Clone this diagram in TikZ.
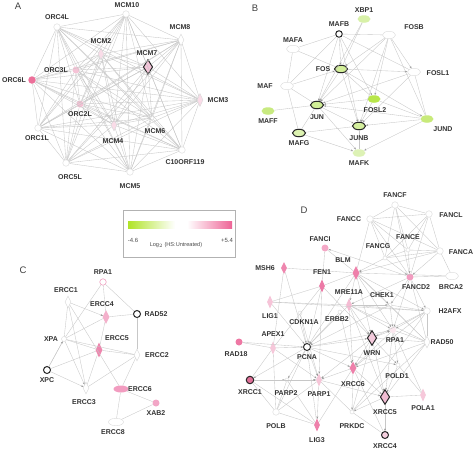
\documentclass[tikz,border=0pt]{standalone}
\usepackage{fontspec}
\setmainfont{Liberation Sans}
\usetikzlibrary{shapes.geometric,arrows.meta}
\tikzset{
 ed/.style={draw=black!22, line width=0.35pt},
 ea/.style={ed, -{Stealth[length=2.4pt,width=1.8pt,color=black!40]}},
 lbl/.style={font=\fontsize{7}{8}\selectfont\bfseries, text=black!80, inner sep=0pt},
 plet/.style={font=\fontsize{9.5}{10}\selectfont, text=black!75, inner sep=0pt},
 nc/.style={circle, inner sep=0pt, minimum size=6.5pt, draw=black!15, fill=white, line width=0.4pt},
 nd/.style={diamond, inner sep=0pt, minimum width=6pt, minimum height=12pt, draw=black!15, fill=white, line width=0.4pt},
 ne/.style={ellipse, inner sep=0pt, minimum width=13pt, minimum height=7.5pt, draw=black!15, fill=white, line width=0.4pt},
 bk/.style={draw=black!85, line width=1pt},
 bigd/.style={minimum width=9.5pt, minimum height=15pt},
}
\begin{document}
\begin{tikzpicture}[x=1pt,y=-1pt]
\useasboundingbox (0,0) rectangle (474,450);
\fill[white] (0,0) rectangle (474,450);

% ---------------- Panel A ----------------
\node[plet] (pA) at (18,6) {A};
\node[nc] (aMCM10) at (126,14) {};
\node[nc] (aORC4L) at (57,27) {};
\node[nd] (aMCM8) at (181,40) {};
\node[nd, fill={rgb,255:red,249;green,220;blue,232}] (aMCM2) at (101,54) {};
\node[nd, bk, bigd, fill={rgb,255:red,242;green,196;blue,216}] (aMCM7) at (148,67) {};
\node[nc, minimum size=7pt, fill={rgb,255:red,245;green,195;blue,214}, draw=none] (aORC3L) at (76,70) {};
\node[nc, minimum size=7.5pt, fill={rgb,255:red,236;green,111;blue,153}, draw=none] (aORC6L) at (32,80) {};
\node[nd, fill={rgb,255:red,250;green,220;blue,232}, minimum height=13pt] (aMCM3) at (200,100) {};
\node[nc, minimum size=7pt, fill={rgb,255:red,245;green,192;blue,212}, draw=none] (aORC2L) at (80,104) {};
\node[nc] (aORC1L) at (38,128) {};
\node[nd, fill={rgb,255:red,250;green,220;blue,232}] (aMCM4) at (114,125) {};
\node[nc, minimum size=4pt] (aMCM6) at (152,118) {};
\node[nc] (aC10) at (182,150) {};
\node[nc] (aORC5L) at (66,163) {};
\node[nc] (aMCM5) at (130,172) {};
\foreach \u [count=\i] in {aMCM10,aORC4L,aMCM8,aMCM2,aMCM7,aORC3L,aORC6L,aMCM3,aORC2L,aORC1L,aMCM4,aMCM6,aC10,aORC5L,aMCM5}{
  \foreach \v [count=\j] in {aMCM10,aORC4L,aMCM8,aMCM2,aMCM7,aORC3L,aORC6L,aMCM3,aORC2L,aORC1L,aMCM4,aMCM6,aC10,aORC5L,aMCM5}{
    \ifnum\j>\i \draw[ed] (\u) -- (\v); \fi
  }
}
\node[lbl] (laMCM10) at (127,5) {MCM10};
\node[lbl] (laORC4L) at (57,17) {ORC4L};
\node[lbl] (laMCM8) at (180,27) {MCM8};
\node[lbl] (laMCM2) at (101,41) {MCM2};
\node[lbl] (laMCM7) at (147,53) {MCM7};
\node[lbl] (laORC3L) at (56,70) {ORC3L};
\node[lbl, anchor=east] (laORC6L) at (26,80) {ORC6L};
\node[lbl] (laMCM3) at (218,100) {MCM3};
\node[lbl] (laORC2L) at (80,114) {ORC2L};
\node[lbl] (laORC1L) at (37,138) {ORC1L};
\node[lbl] (laMCM4) at (113,141) {MCM4};
\node[lbl] (laMCM6) at (155,131) {MCM6};
\node[lbl] (laC10) at (185,162) {C10ORF119};
\node[lbl] (laORC5L) at (70,177) {ORC5L};
\node[lbl] (laMCM5) at (130,186) {MCM5};

% ---------------- Panel B ----------------
\node[plet] (pB) at (255,8) {B};
\node[ne, draw=none, fill={rgb,255:red,216;green,241;blue,168}] (bXBP1) at (364,19) {};
\node[nc, bk] (bMAFB) at (339,34) {};
\node[ne] (bFOSB) at (389,35) {};
\node[ne] (bMAFA) at (293,49) {};
\node[ne, bk, fill={rgb,255:red,210;green,238;blue,152}] (bFOS) at (341,69) {};
\node[ne] (bFOSL1) at (414,72) {};
\node[ne] (bMAF) at (287,86) {};
\node[ne, draw=none, fill={rgb,255:red,184;green,230;blue,74}] (bFOSL2) at (374,99) {};
\node[ne, bk, fill={rgb,255:red,208;green,238;blue,150}] (bJUN) at (317,105) {};
\node[ne, draw=none, fill={rgb,255:red,200;green,234;blue,128}] (bMAFF) at (268,111) {};
\node[ne, draw=none, fill={rgb,255:red,200;green,234;blue,122}] (bJUND) at (427,119) {};
\node[ne, bk, fill={rgb,255:red,212;green,239;blue,158}] (bJUNB) at (359,126) {};
\node[ne, bk, fill={rgb,255:red,220;green,242;blue,176}] (bMAFG) at (299,133) {};
\node[ne, draw=none, fill={rgb,255:red,221;green,242;blue,181}] (bMAFK) at (359,153) {};
\foreach \u/\v in {bMAFB/bMAFA, bMAFB/bFOSB, bMAFB/bMAF, bMAFA/bMAF, bMAF/bJUN, bMAF/bMAFG, bMAFF/bJUN, bJUN/bMAFG, bMAFG/bJUNB, bMAFK/bJUNB, bXBP1/bFOS, bMAFB/bFOSL1, bFOSB/bJUND, bFOSL1/bJUND, bJUND/bFOSL2, bMAFA/bFOS}
  \draw[ed] (\u) -- (\v);
\foreach \u/\v in {bMAFB/bFOS, bMAFB/bJUN, bMAFB/bJUNB, bFOSB/bFOS, bFOSB/bJUN, bFOSB/bJUNB, bFOSB/bFOSL1, bFOS/bFOSL1, bFOS/bJUN, bFOS/bJUNB, bFOS/bJUND, bMAF/bFOS, bFOSL1/bJUN, bFOSL1/bJUNB, bFOSL2/bJUN, bFOSL2/bJUNB, bFOSL2/bFOS, bJUND/bJUN, bJUND/bJUNB, bJUND/bMAFK, bJUN/bJUNB, bJUN/bMAFK, bMAFG/bMAFK, bFOSB/bFOSL2, bXBP1/bJUN, bMAFB/bFOSL2}
  \draw[ea] (\u) -- (\v);
\node[lbl] (lbXBP1) at (364,10) {XBP1};
\node[lbl] (lbMAFB) at (339,24) {MAFB};
\node[lbl] (lbFOSB) at (414,27) {FOSB};
\node[lbl] (lbMAFA) at (293,40) {MAFA};
\node[lbl] (lbFOS) at (323,69) {FOS};
\node[lbl] (lbFOSL1) at (438,73) {FOSL1};
\node[lbl] (lbMAF) at (265,86) {MAF};
\node[lbl] (lbFOSL2) at (375,110) {FOSL2};
\node[lbl] (lbJUN) at (317,117) {JUN};
\node[lbl] (lbMAFF) at (268,121) {MAFF};
\node[lbl] (lbJUND) at (443,129) {JUND};
\node[lbl] (lbJUNB) at (359,138) {JUNB};
\node[lbl] (lbMAFG) at (299,143) {MAFG};
\node[lbl] (lbMAFK) at (359,163) {MAFK};

% ---------------- Legend ----------------
\node[draw=black!30, line width=0.4pt, minimum width=112pt, minimum height=47pt, inner sep=0pt] (leg) at (179,233.5) {};
\shade[left color={rgb,255:red,176;green,228;blue,40}, right color=white] (128,221) rectangle (175,228);
\fill[white] (175,221) rectangle (187,228);
\shade[left color=white, right color={rgb,255:red,238;green,100;blue,150}] (187,221) rectangle (232,228);
\node[font=\fontsize{6}{7}\selectfont, text=black!70, inner sep=0pt] (lm) at (133,240) {-4.6};
\node[font=\fontsize{6}{7}\selectfont, text=black!70, inner sep=0pt] (lp) at (227,240) {+5.4};
\node[font=\fontsize{5.6}{7}\selectfont, text=black!70, inner sep=0pt] (lt) at (176,245) {Log$_2$ (HS:Untreated)};

% ---------------- Panel C ----------------
\node[plet] (pC) at (23,270) {C};
\node[nc, draw={rgb,255:red,240;green,160;blue,192}, line width=0.6pt] (cRPA1) at (103,282) {};
\node[nd] (cERCC1) at (68,302) {};
\node[nd, draw=none, minimum width=7pt, minimum height=14pt, fill={rgb,255:red,244;green,176;blue,203}] (cERCC4) at (106,317) {};
\node[nc, bk, minimum size=7pt] (cRAD52) at (137,314) {};
\node[nc, minimum size=5pt] (cXPA) at (64,339) {};
\node[nd, draw=none, minimum width=7pt, minimum height=15pt, fill={rgb,255:red,238;green,134;blue,174}] (cERCC5) at (99,350) {};
\node[nd] (cERCC2) at (137,355) {};
\node[nc, bk, minimum size=7pt] (cXPC) at (47,370) {};
\node[nd] (cERCC3) at (86,388) {};
\node[ne, draw=none, minimum width=15pt, minimum height=7pt, fill={rgb,255:red,242;green,156;blue,192}] (cERCC6) at (121,389) {};
\node[nc, draw=none, minimum size=7pt, fill={rgb,255:red,242;green,166;blue,198}] (cXAB2) at (156,403) {};
\node[ne, minimum width=15pt] (cERCC8) at (116,422) {};
\foreach \u/\v in {cRPA1/cERCC4, cRPA1/cRAD52, cRPA1/cXPA, cERCC1/cXPA, cERCC1/cERCC3, cERCC4/cRAD52, cERCC4/cXPA, cERCC5/cXPA, cERCC5/cERCC2, cERCC5/cXPC, cERCC5/cERCC3, cRAD52/cERCC2, cXPA/cXPC, cERCC2/cERCC3, cERCC2/cERCC6, cERCC6/cXAB2, cERCC6/cERCC8, cERCC8/cXAB2, cERCC4/cERCC5, cXPA/cERCC2, cERCC1/cERCC6}
  \draw[ed] (\u) -- (\v);
\foreach \u/\v in {cERCC1/cERCC4, cXPC/cXPA, cXPC/cERCC3, cXPA/cERCC3}
  \draw[ea] (\u) -- (\v);
\node[lbl] (lcRPA1) at (103,272) {RPA1};
\node[lbl] (lcERCC1) at (66,290) {ERCC1};
\node[lbl] (lcERCC4) at (102,304) {ERCC4};
\node[lbl] (lcRAD52) at (156,314) {RAD52};
\node[lbl] (lcERCC5) at (117,338) {ERCC5};
\node[lbl] (lcXPA) at (51,339) {XPA};
\node[lbl] (lcERCC2) at (157,355) {ERCC2};
\node[lbl] (lcXPC) at (47,380) {XPC};
\node[lbl] (lcERCC3) at (84,402) {ERCC3};
\node[lbl] (lcERCC6) at (140,389) {ERCC6};
\node[lbl] (lcXAB2) at (156,413) {XAB2};
\node[lbl] (lcERCC8) at (113,432) {ERCC8};

% ---------------- Panel D ----------------
\node[plet] (pD) at (304,210) {D};
\node[nc] (dFANCF) at (395,205) {};
\node[nc] (dFANCC) at (370,219) {};
\node[nc] (dFANCL) at (429,214) {};
\node[nc, minimum size=4pt] (dFANCE) at (408,250) {};
\node[nc, minimum size=4pt] (dFANCG) at (385,258) {};
\node[nc] (dFANCA) at (440,251) {};
\node[nc, draw=none, minimum size=7pt, fill={rgb,255:red,244;green,168;blue,198}] (dFANCI) at (325,248) {};
\node[nd, draw=none, minimum width=7pt, minimum height=14pt, fill={rgb,255:red,238;green,128;blue,170}] (dBLM) at (356,273) {};
\node[nd, draw=none, minimum height=12pt, fill={rgb,255:red,238;green,134;blue,174}] (dMSH6) at (284,268) {};
\node[nd, draw=none, minimum height=13pt, fill={rgb,255:red,236;green,122;blue,166}] (dFEN1) at (322,286) {};
\node[nc, draw=none, minimum size=7pt, fill={rgb,255:red,242;green,156;blue,192}] (dFANCD2) at (410,277) {};
\node[ne] (dBRCA2) at (452,276) {};
\node[nd, draw=none, minimum height=13pt, fill={rgb,255:red,244;green,188;blue,211}] (dMRE11A) at (349,305) {};
\node[nc, minimum size=4pt] (dCHEK1) at (390,305) {};
\node[nd, draw=none, minimum height=13pt, fill={rgb,255:red,246;green,196;blue,216}] (dLIG1) at (270,302) {};
\node[nc] (dH2AFX) at (427,311) {};
\node[nc, minimum size=4pt] (dCDKN1A) at (300,313) {};
\node[nc, minimum size=4pt] (dERBB2) at (340,312) {};
\node[nd, draw=none, minimum height=13pt, fill={rgb,255:red,246;green,200;blue,218}] (dAPEX1) at (273,348) {};
\node[nc, draw=none, minimum size=7pt, fill={rgb,255:red,238;green,120;blue,164}] (dRAD18) at (239,342) {};
\node[nc, bk, minimum size=7pt] (dPCNA) at (307,347) {};
\node[nd, bk, bigd, fill={rgb,255:red,244;green,202;blue,220}] (dWRN) at (372,338) {};
\node[nc, draw=none, fill={rgb,255:red,251;green,232;blue,239}] (dRPA1) at (393,330) {};
\node[nd] (dRAD50) at (427,342) {};
\node[nd, draw=none, minimum width=7pt, minimum height=13pt, fill={rgb,255:red,238;green,128;blue,170}] (dXRCC6) at (353,368) {};
\node[nc, minimum size=4pt] (dPOLD1) at (398,365) {};
\node[nc, bk, minimum size=7.5pt, fill={rgb,255:red,224;green,112;blue,152}] (dXRCC1) at (250,380) {};
\node[nc, minimum size=4pt] (dPARP2) at (287,380) {};
\node[nd, draw=none, minimum height=13pt, fill={rgb,255:red,246;green,198;blue,216}] (dPARP1) at (319,380) {};
\node[nd, bk, bigd, fill={rgb,255:red,240;green,188;blue,210}] (dXRCC5) at (385,397) {};
\node[nd, draw=none, minimum height=13pt, fill={rgb,255:red,246;green,200;blue,218}] (dPOLA1) at (423,395) {};
\node[nc] (dPOLB) at (276,412) {};
\node[nd, draw=none, minimum height=13pt, fill={rgb,255:red,238;green,128;blue,170}] (dLIG3) at (317,425) {};
\node[nc, minimum size=4pt] (dPRKDC) at (352,412) {};
\node[nc, bk, minimum size=7pt, fill={rgb,255:red,246;green,208;blue,224}] (dXRCC4) at (385,435) {};
\foreach \u/\v in {dFANCF/dFANCC, dFANCF/dFANCL, dFANCF/dFANCE, dFANCF/dFANCG, dFANCF/dFANCA, dFANCF/dFANCD2, dFANCC/dFANCL, dFANCC/dFANCE, dFANCC/dFANCG, dFANCC/dFANCA, dFANCC/dFANCD2, dFANCC/dBLM, dFANCL/dFANCE, dFANCL/dFANCG, dFANCL/dFANCA, dFANCL/dFANCD2, dFANCE/dFANCG, dFANCE/dFANCA, dFANCG/dFANCA, dFANCA/dBRCA2, dFANCD2/dBRCA2, dFANCI/dFEN1, dBLM/dFEN1, dBLM/dMSH6, dBLM/dRAD50, dBLM/dBRCA2, dMSH6/dPCNA, dFEN1/dAPEX1, dFEN1/dLIG1, dLIG1/dMRE11A, dLIG1/dH2AFX, dMRE11A/dRAD50, dMRE11A/dH2AFX, dMRE11A/dXRCC5, dCHEK1/dRAD50, dH2AFX/dRAD50, dH2AFX/dXRCC6, dAPEX1/dXRCC1, dAPEX1/dRAD18, dAPEX1/dPOLB, dRAD18/dPCNA, dPCNA/dPOLB, dPCNA/dLIG3, dWRN/dRAD50, dWRN/dPRKDC, dRPA1/dRAD50, dRPA1/dPOLA1, dRAD50/dXRCC5, dRAD50/dPRKDC, dXRCC6/dLIG3, dXRCC6/dXRCC4, dXRCC1/dLIG3, dXRCC1/dPOLB, dPARP2/dLIG3, dPARP1/dPRKDC, dPARP1/dPOLB, dXRCC5/dPOLA1, dPOLD1/dPOLA1, dPRKDC/dXRCC4, dLIG3/dPOLB, dPOLB/dPARP2, dFANCI/dBLM, dMSH6/dAPEX1, dH2AFX/dPRKDC, dFANCD2/dRAD50}
  \draw[ed] (\u) -- (\v);
\foreach \u/\v in {dFANCE/dFANCD2, dFANCG/dFANCD2, dFANCG/dBLM, dFANCA/dFANCD2, dFANCA/dBLM, dFANCD2/dFANCI, dFANCD2/dH2AFX, dFANCD2/dCHEK1, dFANCD2/dRPA1, dFANCD2/dMRE11A, dBLM/dMRE11A, dBLM/dRPA1, dBLM/dWRN, dBLM/dPCNA, dBLM/dCHEK1, dBLM/dH2AFX, dFEN1/dPCNA, dFEN1/dWRN, dFEN1/dPARP1, dLIG1/dPCNA, dMRE11A/dWRN, dMRE11A/dCHEK1, dMRE11A/dRPA1, dMRE11A/dPCNA, dMRE11A/dXRCC6, dCHEK1/dRPA1, dCHEK1/dH2AFX, dCHEK1/dPCNA, dH2AFX/dWRN, dH2AFX/dRPA1, dCDKN1A/dPCNA, dERBB2/dPCNA, dAPEX1/dPCNA, dAPEX1/dPARP1, dPCNA/dWRN, dPCNA/dRPA1, dPCNA/dXRCC6, dPCNA/dPARP1, dPCNA/dPOLD1, dPCNA/dXRCC1, dPCNA/dPARP2, dWRN/dRPA1, dWRN/dXRCC6, dWRN/dXRCC5, dWRN/dPARP1, dWRN/dPOLD1, dRPA1/dXRCC5, dRPA1/dXRCC6, dRPA1/dPOLD1, dRAD50/dXRCC6, dXRCC6/dXRCC5, dXRCC6/dPRKDC, dXRCC6/dPARP1, dXRCC1/dPARP2, dXRCC1/dPARP1, dPARP2/dPARP1, dPARP1/dLIG3, dPARP1/dXRCC5, dXRCC5/dPRKDC, dXRCC5/dXRCC4, dPOLD1/dXRCC5, dERBB2/dXRCC6, dCDKN1A/dPARP1}
  \draw[ea] (\u) -- (\v);
\node[lbl] (ldFANCF) at (395,195) {FANCF};
\node[lbl] (ldFANCC) at (349,219) {FANCC};
\node[lbl] (ldFANCL) at (451,215) {FANCL};
\node[lbl] (ldFANCE) at (408,237) {FANCE};
\node[lbl] (ldFANCG) at (378,246) {FANCG};
\node[lbl] (ldFANCA) at (461,252) {FANCA};
\node[lbl] (ldFANCI) at (320,239) {FANCI};
\node[lbl] (ldBLM) at (343,260) {BLM};
\node[lbl] (ldMSH6) at (265,268) {MSH6};
\node[lbl] (ldFEN1) at (322,272) {FEN1};
\node[lbl] (ldFANCD2) at (416,287) {FANCD2};
\node[lbl] (ldBRCA2) at (451,287) {BRCA2};
\node[lbl] (ldMRE11A) at (349,292) {MRE11A};
\node[lbl] (ldCHEK1) at (382,295) {CHEK1};
\node[lbl] (ldLIG1) at (270,316) {LIG1};
\node[lbl] (ldH2AFX) at (450,311) {H2AFX};
\node[lbl] (ldCDKN1A) at (304,322) {CDKN1A};
\node[lbl] (ldERBB2) at (337,319) {ERBB2};
\node[lbl] (ldAPEX1) at (273,334) {APEX1};
\node[lbl] (ldRAD18) at (236,354) {RAD18};
\node[lbl] (ldPCNA) at (307,357) {PCNA};
\node[lbl] (ldWRN) at (372,353) {WRN};
\node[lbl] (ldRPA1) at (395,340) {RPA1};
\node[lbl] (ldRAD50) at (442,342) {RAD50};
\node[lbl] (ldXRCC6) at (353,384) {XRCC6};
\node[lbl] (ldPOLD1) at (397,376) {POLD1};
\node[lbl] (ldXRCC1) at (250,392) {XRCC1};
\node[lbl] (ldPARP2) at (286,393) {PARP2};
\node[lbl] (ldPARP1) at (319,394) {PARP1};
\node[lbl] (ldXRCC5) at (385,412) {XRCC5};
\node[lbl] (ldPOLA1) at (423,408) {POLA1};
\node[lbl] (ldPOLB) at (276,426) {POLB};
\node[lbl] (ldLIG3) at (317,440) {LIG3};
\node[lbl] (ldPRKDC) at (352,426) {PRKDC};
\node[lbl] (ldXRCC4) at (385,446) {XRCC4};
\end{tikzpicture}
\end{document}
